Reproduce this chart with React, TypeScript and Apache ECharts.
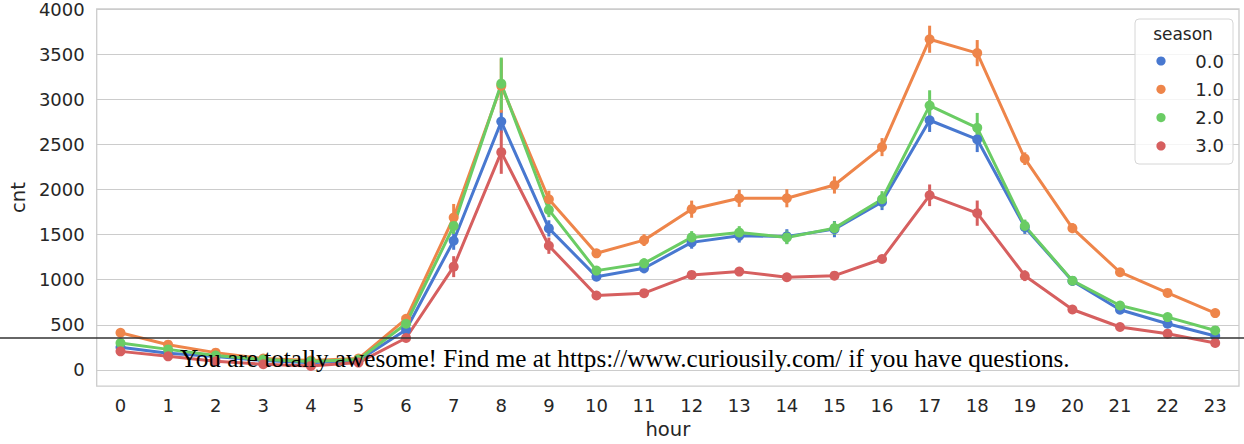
import React, { useEffect, useRef } from "react";
import * as echarts from "echarts";

const hours = ["0", "1", "2", "3", "4", "5", "6", "7", "8", "9", "10", "11", "12", "13", "14", "15", "16", "17", "18", "19", "20", "21", "22", "23"];
const seasons = ["0.0", "1.0", "2.0", "3.0"];
const colors = ["#4878d0", "#ee854a", "#6acc64", "#d65f5f"];

const season0 = [250, 185, 147, 103, 80, 103, 445, 1431, 2752, 1568, 1033, 1126, 1413, 1486, 1479, 1560, 1861, 2767, 2554, 1582, 986, 666, 511, 375];
const season1 = [411, 279, 191, 125, 103, 125, 566, 1689, 3150, 1891, 1292, 1438, 1781, 1902, 1902, 2049, 2469, 3665, 3511, 2341, 1571, 1082, 853, 629];
const season2 = [298, 227, 158, 114, 92, 114, 511, 1596, 3172, 1773, 1100, 1181, 1468, 1523, 1468, 1571, 1891, 2929, 2683, 1596, 989, 713, 585, 437];
const season3 = [205, 150, 95, 62, 44, 81, 353, 1144, 2413, 1376, 824, 850, 1052, 1089, 1027, 1044, 1229, 1935, 1737, 1044, 669, 475, 401, 298];

const ci0 = [15, 12, 10, 8, 6, 8, 25, 100, 125, 90, 40, 55, 70, 75, 80, 90, 90, 130, 140, 75, 50, 35, 25, 20];
const ci1 = [20, 15, 12, 8, 6, 8, 30, 150, 300, 95, 45, 65, 95, 95, 100, 95, 100, 150, 145, 70, 55, 40, 30, 25];
const ci2 = [15, 12, 10, 8, 6, 8, 25, 90, 290, 80, 40, 55, 70, 70, 75, 75, 90, 170, 165, 70, 50, 35, 25, 20];
const ci3 = [12, 10, 8, 6, 5, 6, 20, 116, 240, 90, 30, 35, 45, 45, 45, 45, 40, 120, 140, 60, 35, 25, 20, 18];

const yTicks = [0, 500, 1000, 1500, 2000, 2500, 3000, 3500, 4000];

const xName = "hour";
const yName = "cnt";
const legendTitle = "season";
const overlayText = "You are totally awesome! Find me at https://www.curiousily.com/ if you have questions.";

const seriesValues = [season0, season1, season2, season3];
const seriesCi = [ci0, ci1, ci2, ci3];

const FONT = "DejaVu Sans";
const TXT = "#262626";

export default function App() {
  const ref = useRef<HTMLDivElement>(null);
  useEffect(() => {
    if (!ref.current) return;
    const chart = echarts.init(ref.current, null, { renderer: "svg" });
    const series: any[] = [];
    seriesValues.forEach((vals, si) => {
      const color = colors[si];
      series.push({
        type: "custom",
        name: seasons[si] + " ci",
        data: vals.map((v, i) => [i, v - seriesCi[si][i], v + seriesCi[si][i]]),
        encode: { x: 0, y: [1, 2] },
        renderItem: (params: any, api: any) => {
          const x = api.value(0);
          const p1 = api.coord([x, api.value(1)]);
          const p2 = api.coord([x, api.value(2)]);
          return {
            type: "line",
            shape: { x1: p1[0], y1: p1[1], x2: p2[0], y2: p2[1] },
            style: { stroke: color, lineWidth: 3 },
          };
        },
        silent: true,
      });
      series.push({
        type: "line",
        name: seasons[si],
        data: vals,
        symbol: "circle",
        symbolSize: 10,
        showSymbol: true,
        lineStyle: { color, width: 3 },
        itemStyle: { color, borderWidth: 0 },
      });
    });

    const legendItems: any[] = [];
    seasons.forEach((s, i) => {
      const cy = 61 + i * 28.3;
      legendItems.push({
        type: "circle",
        shape: { cx: 1161, cy, r: 4.6 },
        style: { fill: colors[i] },
        z: 101,
      });
      legendItems.push({
        type: "text",
        x: 1224,
        y: cy,
        style: { text: s, fill: TXT, font: `18px '${FONT}'`, align: "right", verticalAlign: "middle" },
        z: 101,
      });
    });

    chart.setOption({
      animation: false,
      backgroundColor: "#ffffff",
      grid: {
        left: 92,
        right: 5,
        top: 9,
        bottom: 56,
        show: true,
        borderColor: "#cccccc",
        borderWidth: 1.3,
        backgroundColor: "transparent",
      },
      xAxis: {
        type: "category",
        data: hours,
        boundaryGap: true,
        name: xName,
        nameLocation: "middle",
        nameGap: 31,
        nameTextStyle: { fontFamily: FONT, fontSize: 19.6, color: TXT },
        axisLine: { show: false },
        axisTick: { show: false },
        axisLabel: { fontFamily: FONT, fontSize: 18, color: TXT, margin: 10 },
        splitLine: { show: false },
      },
      yAxis: {
        type: "value",
        min: -180,
        max: 4000,
        name: yName,
        nameLocation: "middle",
        nameRotate: 90,
        nameGap: 59,
        nameTextStyle: { fontFamily: FONT, fontSize: 19.6, color: TXT },
        axisLine: { show: false },
        axisTick: { show: false, customValues: yTicks },
        axisLabel: {
          fontFamily: FONT,
          fontSize: 18,
          color: TXT,
          margin: 12,
          customValues: yTicks,
          formatter: (v: number) => String(v),
        },
        splitLine: { show: true, lineStyle: { color: "#cccccc", width: 1.2 } },
      },
      series,
      graphic: [
        {
          type: "rect",
          shape: { x: 1135, y: 19, width: 98, height: 145, r: 4 },
          style: { fill: "rgba(255,255,255,0.8)", stroke: "#d6d6d6", lineWidth: 1 },
          z: 100,
        },
        {
          type: "text",
          x: 1183,
          y: 34,
          style: { text: legendTitle, fill: TXT, font: `17px '${FONT}'`, align: "center", verticalAlign: "middle" },
          z: 101,
        },
        ...legendItems,
        {
          type: "line",
          shape: { x1: 0, y1: 338, x2: 1244, y2: 338 },
          style: { stroke: "#333333", lineWidth: 1.5 },
          z: 110,
        },
        {
          type: "text",
          x: 180,
          y: 358,
          style: { text: overlayText, fill: "#000000", font: "25.2px 'Liberation Serif'", align: "left", verticalAlign: "middle" },
          z: 110,
        },
      ],
    });
    return () => chart.dispose();
  }, []);
  return <div ref={ref} style={{ position: "absolute", left: 0, top: 0, width: 1244, height: 444 }} />;
}
